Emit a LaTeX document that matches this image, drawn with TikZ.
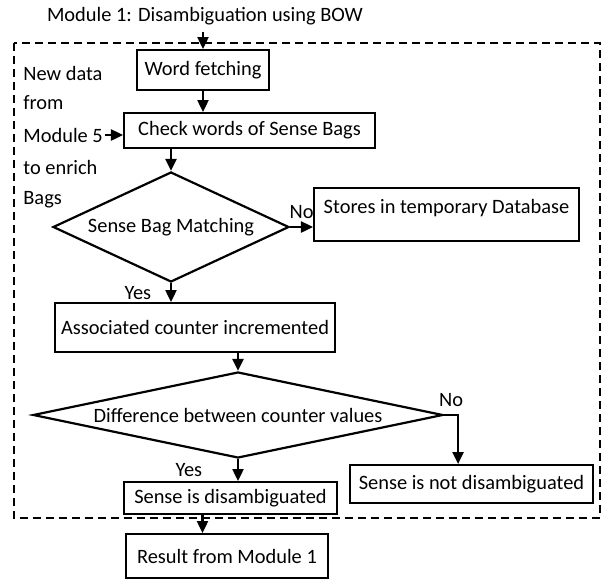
\documentclass[tikz,border=0pt]{standalone}
\usepackage{fontspec}
\setmainfont{Carlito}
\usetikzlibrary{arrows.meta,shapes.geometric}

\begin{document}
\begin{tikzpicture}[x=0.5pt,y=-0.5pt,>={Triangle[width=5.5pt,length=6pt]},
                    every node/.style={font=\fontsize{10.2}{12}\selectfont},
                    block/.style={draw,line width=1pt,inner sep=0pt},
                    decision/.style={draw,diamond,line width=1.1pt,inner sep=0pt},
                    flow/.style={->,line width=1.2pt},
                    sidetext/.style={anchor=west,inner sep=1pt}]

  \useasboundingbox (0,0) rectangle (602,579);

  % module frame
  \draw[line width=0.8pt,dash pattern=on 4pt off 2.5pt] (14,43) rectangle (600,518);

  \node (title) at (205,16) {Module 1: Disambiguation using BOW};

  \node[block,minimum width=66pt,minimum height=20pt]      (fetch)  at (203,70)      {Word fetching};
  \node[block,minimum width=125.5pt,minimum height=17.5pt] (check)  at (249.5,130.5) {Check words of Sense Bags};
  \node[decision,aspect=2.145,
        minimum width=118pt,minimum height=55pt]           (match)  at (171,227)     {Sense Bag Matching};
  \node[block,minimum width=132.5pt,inner ysep=0pt,
        text height=12.5pt,text depth=14pt]                (store)  at (446.5,214.5) {Stores in temporary Database};
  \node[block,minimum width=140pt,minimum height=24.5pt]   (assoc)  at (195,327.5)   {Associated counter incremented};
  \node[decision,aspect=4.77,
        minimum width=205pt,minimum height=43pt]           (diff)   at (238,415)     {Difference between counter values};
  \node[block,minimum width=121.5pt,minimum height=19pt]   (notdis) at (471.5,484)   {Sense is not disambiguated};
  \node[block,minimum width=106.5pt,minimum height=16pt]   (dis)    at (230.5,498)   {Sense is disambiguated};
  \node[block,minimum width=101pt,minimum height=22pt]     (result) at (227,556)     {Result from Module 1};

  % feedback note on the left
  \node[sidetext] (n1) at (21,73)  {New data};
  \node[sidetext] (n2) at (21,103) {from};
  \node[sidetext] (m5) at (21,135) {Module 5};
  \node[sidetext] (n4) at (21,167) {to enrich};
  \node[sidetext] (n5) at (21,200) {Bags};

  \draw[flow] (fetch.north |- title.south) -- (fetch.north);
  \draw[flow] (fetch.south) -- (fetch.south |- check.north);
  \draw[flow] (m5.east) -- (m5.east -| check.west);
  \draw[flow] (match.north |- check.south) -- (match.north);
  \draw[flow] (match.east) -- node[above] {No} (match.east -| store.west);
  \draw[flow] (match.south) -- node[left=6pt] {Yes} (match.south |- assoc.north);
  \draw[flow] (diff.north |- assoc.south) -- (diff.north);
  \draw[flow] (diff.east) -- node[above] {No} ++(14,0) coordinate (turn) -- (turn |- notdis.north);
  \draw[flow] (diff.south) -- node[left=14pt] {Yes} (diff.south |- dis.north);
  \draw[flow] ([xshift=-14pt]dis.south) -- ([xshift=-14pt]dis.south |- result.north);

\end{tikzpicture}
\end{document}
